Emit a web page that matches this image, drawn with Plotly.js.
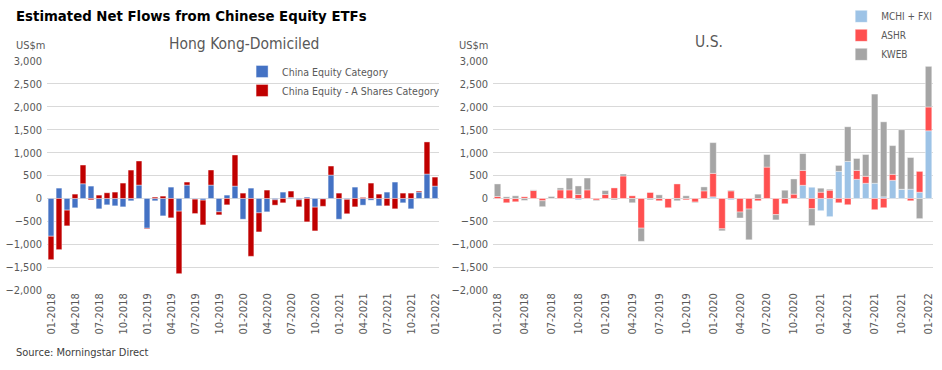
<!DOCTYPE html>
<html>
<head>
<meta charset="utf-8">
<script src="https://cdn.plot.ly/plotly-3.0.1.min.js"></script>
<style>
html,body{margin:0;padding:0;background:#fff;}
#chart{width:942px;height:370px;}
</style>
</head>
<body>
<div id="chart"></div>
<script>
const months = ["01-2018","02-2018","03-2018","04-2018","05-2018","06-2018","07-2018","08-2018","09-2018","10-2018","11-2018","12-2018",
"01-2019","02-2019","03-2019","04-2019","05-2019","06-2019","07-2019","08-2019","09-2019","10-2019","11-2019","12-2019",
"01-2020","02-2020","03-2020","04-2020","05-2020","06-2020","07-2020","08-2020","09-2020","10-2020","11-2020","12-2020",
"01-2021","02-2021","03-2021","04-2021","05-2021","06-2021","07-2021","08-2021","09-2021","10-2021","11-2021","12-2021",
"01-2022"];
const tickLabels = ["01-2018","04-2018","07-2018","10-2018","01-2019","04-2019","07-2019","10-2019","01-2020","04-2020","07-2020","10-2020","01-2021","04-2021","07-2021","10-2021","01-2022"];

// Hong Kong-Domiciled (US$m)
const hkChinaEquity = [-825,226,-255,-204,321,270,-226,-139,-161,-183,-51,292,
 -650,-51,-380,248,-277,292,-15,-37,292,-292,73,270,
 -453,226,-314,-292,-29,139,22,-29,29,-190,-10,511,
 -453,-20,248,-146,-37,-161,139,358,-95,-226,139,533,
 270];
const hkAShares = [-511,-1117,-343,95,409,-29,73,124,139,336,620,526,
 -15,29,51,-423,-1365,66,-314,-540,329,-66,-139,679,
 117,-1263,-416,183,-117,-95,139,-153,-511,-518,-161,197,
 117,-314,-183,22,336,95,-161,-226,117,117,22,701,
 197];

// U.S. (US$m)
const usMchiFxi = [0,0,0,0,0,0,0,0,0,-29,0,0,
 0,0,0,0,0,0,0,0,0,0,0,0,
 36,0,-29,0,0,0,0,0,0,0,288,245,
 -267,-397,591,808,418,332,332,36,397,202,202,137,
 1478];
const usAshr = [43,-94,-72,36,173,-50,0,187,187,86,187,-36,
 86,230,490,58,-648,130,-50,-202,317,-29,-79,166,
 512,-663,166,-296,-231,-50,685,-353,-115,94,324,-224,
 137,180,-94,-137,195,151,-245,-202,130,0,-50,454,
 519];
const usKweb = [274,36,58,-43,14,-130,43,43,259,187,259,-14,
 86,-29,43,-94,-288,-29,79,0,-50,58,-14,86,
 671,-43,14,-130,-671,94,274,-115,180,332,368,-368,
 87,22,130,757,260,476,1947,1637,627,1298,692,-440,
 887];

const FONT = '"Liberation Sans Narrow","DejaVu Sans Condensed","Roboto Condensed",Arial,sans-serif';
const GRAY = '#595959';

function bar(y, name, color, xa, ya, legend){
  return {type:'bar', x:months, y:y, name:name, xaxis:xa, yaxis:ya, legend:legend,
    marker:{color:color, line:{color:'#ffffff', width:0.4}}, hoverinfo:'x+y+name'};
}

const data = [
  bar(hkChinaEquity,'China Equity Category','#4472C4','x','y','legend'),
  bar(hkAShares,'China Equity - A Shares Category','#C00000','x','y','legend'),
  bar(usMchiFxi,'MCHI + FXI','#9DC3E6','x2','y2','legend2'),
  bar(usAshr,'ASHR','#FF5050','x2','y2','legend2'),
  bar(usKweb,'KWEB','#A5A5A5','x2','y2','legend2')
];

function xax(domain, anchor){
  return {domain:domain, anchor:anchor, type:'category', tickmode:'array', tickvals:tickLabels, ticktext:tickLabels,
    tickangle:-90, tickfont:{family:FONT, size:11, color:GRAY}, showgrid:false, zeroline:false,
    showline:false, ticks:'', fixedrange:true};
}
function yax(anchor){
  return {domain:[0.216,0.835], anchor:anchor, range:[-2000,3000], dtick:500, tickformat:',d',
    tickfont:{family:FONT, size:11, color:GRAY}, gridcolor:'#D9D9D9', gridwidth:1,
    zeroline:true, zerolinecolor:'#D9D9D9', zerolinewidth:1, showline:false, ticks:'',
    ticklabelstandoff:4, fixedrange:true};
}

const layout = {
  width:942, height:370,
  margin:{l:0,r:0,t:0,b:0},
  paper_bgcolor:'#ffffff', plot_bgcolor:'#ffffff',
  barmode:'relative', bargap:0.28,
  font:{family:FONT, color:GRAY},
  showlegend:true,
  xaxis: xax([0.0499,0.466],'y'),
  yaxis: yax('x'),
  xaxis2: xax([0.5234,0.9905],'y2'),
  yaxis2: yax('x2'),
  legend:{x:0.257, y:0.846, xanchor:'left', yanchor:'top', bgcolor:'rgba(0,0,0,0)',
    font:{family:FONT, size:10.5, color:GRAY}, itemwidth:30, tracegroupgap:0, traceorder:'normal'},
  legend2:{x:0.893, y:0.995, xanchor:'left', yanchor:'top', bgcolor:'rgba(0,0,0,0)',
    font:{family:FONT, size:10, color:GRAY}, itemwidth:30, tracegroupgap:0, traceorder:'normal'},
  annotations:[
    {text:'<b>Estimated Net Flows from Chinese Equity ETFs</b>', xref:'paper', yref:'paper', x:0.0149, y:0.959,
      xanchor:'left', yanchor:'middle', showarrow:false, font:{family:FONT, size:14.8, color:'#000000'}},
    {text:'Hong Kong-Domiciled', xref:'paper', yref:'paper', x:0.259, y:0.881, xanchor:'center', yanchor:'middle',
      showarrow:false, font:{family:FONT, size:15.5, color:GRAY}},
    {text:'U.S.', xref:'paper', yref:'paper', x:0.753, y:0.886, xanchor:'center', yanchor:'middle',
      showarrow:false, font:{family:FONT, size:15.5, color:GRAY}},
    {text:'US$m', xref:'paper', yref:'paper', x:0.0149, y:0.876, xanchor:'left', yanchor:'middle',
      showarrow:false, font:{family:FONT, size:11, color:GRAY}},
    {text:'US$m', xref:'paper', yref:'paper', x:0.485, y:0.876, xanchor:'left', yanchor:'middle',
      showarrow:false, font:{family:FONT, size:11, color:GRAY}},
    {text:'Source: Morningstar Direct', xref:'paper', yref:'paper', x:0.0149, y:0.046, xanchor:'left', yanchor:'middle',
      showarrow:false, font:{family:FONT, size:11, color:'#404040'}}
  ]
};

Plotly.newPlot('chart', data, layout, {displayModeBar:false, staticPlot:false});
</script>
</body>
</html>
